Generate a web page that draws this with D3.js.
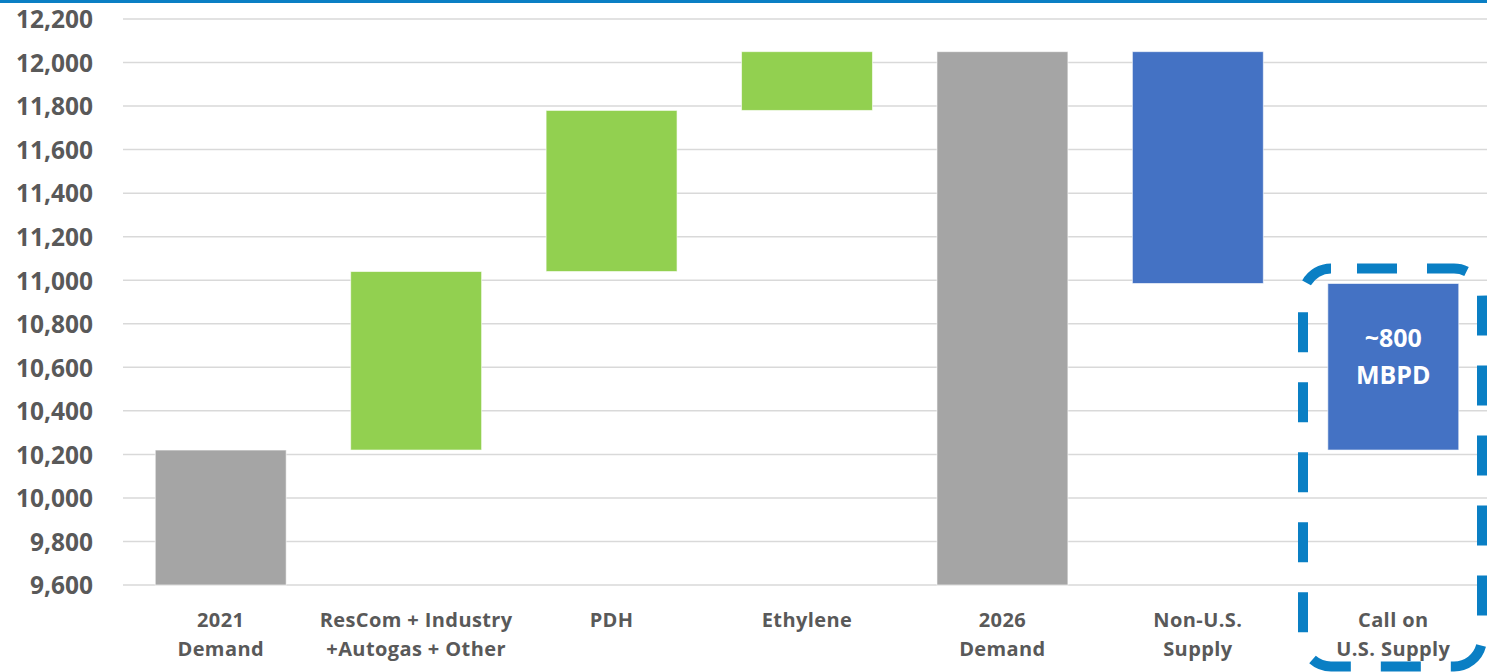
<!DOCTYPE html>
<html>
<head>
<meta charset="utf-8">
<script src="https://cdn.jsdelivr.net/npm/d3@7"></script>
<style>
  body { margin: 0; background: #fff; }
  svg { display: block; font-family: "Open Sans", "Noto Sans", sans-serif; }
  .grid line { stroke: #d9d9d9; stroke-width: 1.5; }
  .tick-label { fill: #595959; font-weight: 700; }
</style>
</head>
<body>
<svg id="chart" width="1487" height="672"></svg>
<script>
// waterfall data (thousand barrels per day)
const categories = ["2021\nDemand", "ResCom + Industry\n+Autogas + Other", "PDH", "Ethylene",
                    "2026\nDemand", "Non-U.S.\nSupply", "Call on\nU.S. Supply"];
const barStart = [9600, 10220, 11040, 11780, 9600, 10985, 10220];
const barEnd   = [10220, 11040, 11780, 12050, 12050, 12050, 10985];
const barKind  = ["total", "add", "add", "add", "total", "supply", "supply"];
const yTicks   = [9600, 9800, 10000, 10200, 10400, 10600, 10800, 11000, 11200, 11400, 11600, 11800, 12000, 12200];
const callLabel = ["~800", "MBPD"];

const colors = { total: "#a5a5a5", add: "#92d050", supply: "#4472c4" };

const svg = d3.select("#chart");
const W = 1487, H = 672;

let y = d3.scaleLinear().domain([9600, 12200]).range([585, 19]);
let x = d3.scaleBand().domain(categories).range([123, 1491]).paddingInner(0.33).paddingOuter(0.165);

// top rule
svg.append("rect").attr("x", 0).attr("y", 0).attr("width", W).attr("height", 3).attr("fill", "#0a7fc4");

// gridlines
svg.append("g").attr("class", "grid").selectAll("line").data(yTicks).enter().append("line")
    .attr("x1", 123).attr("x2", W)
    .attr("y1", d => y(d)).attr("y2", d => y(d));

// y axis labels
let yAxis = d3.axisLeft(y).tickValues(yTicks).tickFormat(d3.format(",")).tickSize(0).tickPadding(0);
let yg = svg.append("g").attr("transform", "translate(93,0)").call(yAxis)
    .attr("font-family", null).attr("font-size", null);
yg.select(".domain").remove();
yg.selectAll("text").attr("class", "tick-label").attr("font-size", 24.5).attr("dy", "0.36em");

// bars
svg.append("g").selectAll("rect").data(categories).enter().append("rect")
    .attr("x", d => x(d))
    .attr("width", x.bandwidth())
    .attr("y", (d, i) => y(barEnd[i]))
    .attr("height", (d, i) => y(barStart[i]) - y(barEnd[i]))
    .attr("fill", (d, i) => colors[barKind[i]])
    .attr("stroke", "#ffffff").attr("stroke-opacity", 0.6).attr("stroke-width", 1);

// category labels
let cats = svg.append("g").selectAll("text").data(categories).enter().append("text")
    .attr("class", "tick-label")
    .attr("text-anchor", "middle")
    .attr("font-size", 20)
    .attr("letter-spacing", 0.4)
    .attr("x", d => x(d) + x.bandwidth() / 2)
    .attr("y", 627);
cats.selectAll("tspan").data(d => d.split("\n")).enter().append("tspan")
    .attr("x", function () { return d3.select(this.parentNode).attr("x"); })
    .attr("dy", (d, i) => i === 0 ? 0 : 29)
    .text(d => d);

// label inside the last bar
let li = categories.length - 1;
let last = categories[li];
let midY = (y(barStart[li]) + y(barEnd[li])) / 2;
svg.append("text")
    .attr("text-anchor", "middle").attr("fill", "#ffffff").attr("font-weight", 700).attr("font-size", 25)
    .attr("x", x(last) + x.bandwidth() / 2)
    .attr("y", midY - 20)
    .selectAll("tspan").data(callLabel).enter().append("tspan")
    .attr("x", x(last) + x.bandwidth() / 2)
    .attr("dy", (d, i) => i === 0 ? 0 : 37)
    .text(d => d);

// dashed highlight around the last category
let boxX = x(last) - x.step() * 0.127;
svg.append("rect")
    .attr("x", boxX)
    .attr("y", y(barEnd[li]) - 15)
    .attr("width", W - 5 - boxX)
    .attr("height", 398)
    .attr("rx", 28).attr("ry", 28)
    .attr("fill", "none")
    .attr("stroke", "#0a7fc4").attr("stroke-width", 10)
    .attr("stroke-dasharray", "40,30")
    .attr("stroke-dashoffset", 44);
</script>
</body>
</html>
